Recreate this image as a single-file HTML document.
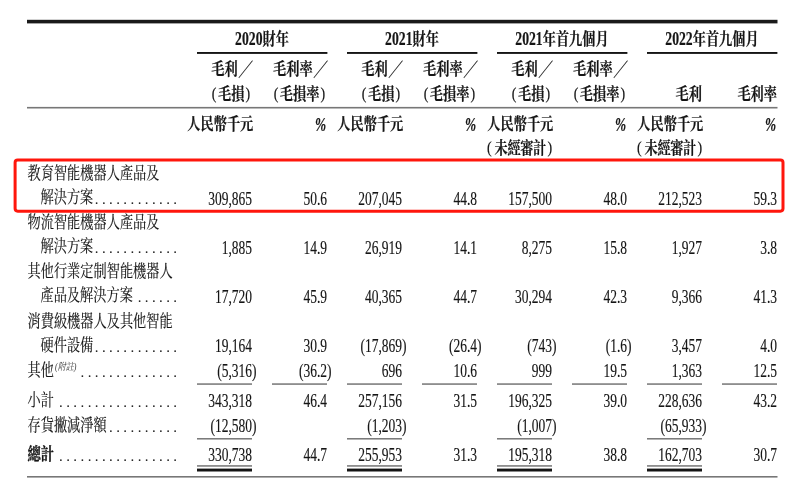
<!DOCTYPE html>
<html lang="zh-Hant"><head><meta charset="utf-8"><title>毛利及毛利率</title>
<style>
html,body{margin:0;padding:0;background:#fff;overflow:hidden;}
svg{display:block;font-family:'Liberation Serif', 'Noto Serif CJK SC', serif;filter:blur(0.3px);}
</style></head>
<body>
<svg width="804" height="488" viewBox="0 0 804 488">
<rect width="804" height="488" fill="#fff"/>
<rect x="27" y="19.8" width="750.5" height="3.6" fill="#1a1a1a"/>
<rect x="27" y="106.9" width="750.5" height="1.6" fill="#777"/>
<rect x="27" y="476" width="750.5" height="1.6" fill="#777"/>
<text transform="translate(235.11,45) scale(0.74,1)" text-anchor="start" font-size="18.5" font-weight="700" fill="#151515" stroke="#151515" stroke-width="0.2">2020</text>
<text transform="translate(262.49,45) scale(0.8,1)" text-anchor="start" font-size="16.5" font-weight="700" fill="#151515" stroke="#151515" stroke-width="0.2">財年</text>
<rect x="197" y="52" width="130.4" height="1.9" fill="#151515"/>
<text transform="translate(385.11,45) scale(0.74,1)" text-anchor="start" font-size="18.5" font-weight="700" fill="#151515" stroke="#151515" stroke-width="0.2">2021</text>
<text transform="translate(412.49,45) scale(0.8,1)" text-anchor="start" font-size="16.5" font-weight="700" fill="#151515" stroke="#151515" stroke-width="0.2">財年</text>
<rect x="347" y="52" width="130.4" height="1.9" fill="#151515"/>
<text transform="translate(515.31,45) scale(0.74,1)" text-anchor="start" font-size="18.5" font-weight="700" fill="#151515" stroke="#151515" stroke-width="0.2">2021</text>
<text transform="translate(542.69,45) scale(0.8,1)" text-anchor="start" font-size="16.5" font-weight="700" fill="#151515" stroke="#151515" stroke-width="0.2">年首九個月</text>
<rect x="497" y="52" width="130.4" height="1.9" fill="#151515"/>
<text transform="translate(665.31,45) scale(0.74,1)" text-anchor="start" font-size="18.5" font-weight="700" fill="#151515" stroke="#151515" stroke-width="0.2">2022</text>
<text transform="translate(692.69,45) scale(0.8,1)" text-anchor="start" font-size="16.5" font-weight="700" fill="#151515" stroke="#151515" stroke-width="0.2">年首九個月</text>
<rect x="647" y="52" width="130.4" height="1.9" fill="#151515"/>
<text transform="translate(253,75) scale(0.8,1)" text-anchor="end" font-size="16.5" font-weight="700" fill="#151515" stroke="#151515" stroke-width="0.2">毛利<tspan dx="0.65" dy="1.0" font-size="18.5">／</tspan></text>
<text transform="translate(250.2,100) scale(0.8,1)" text-anchor="end" font-size="16.5" font-weight="700" fill="#151515" stroke="#151515" stroke-width="0.2"><tspan font-weight="400" font-size="17.5" dy="-0.9">(</tspan><tspan dx="1.9" dy="0.9">毛損</tspan><tspan dx="1.4" dy="-0.9" font-weight="400" font-size="17.5">)</tspan></text>
<text transform="translate(328,75) scale(0.8,1)" text-anchor="end" font-size="16.5" font-weight="700" fill="#151515" stroke="#151515" stroke-width="0.2">毛利率<tspan dx="0.65" dy="1.0" font-size="18.5">／</tspan></text>
<text transform="translate(325.2,100) scale(0.8,1)" text-anchor="end" font-size="16.5" font-weight="700" fill="#151515" stroke="#151515" stroke-width="0.2"><tspan font-weight="400" font-size="17.5" dy="-0.9">(</tspan><tspan dx="1.9" dy="0.9">毛損率</tspan><tspan dx="1.4" dy="-0.9" font-weight="400" font-size="17.5">)</tspan></text>
<text transform="translate(403,75) scale(0.8,1)" text-anchor="end" font-size="16.5" font-weight="700" fill="#151515" stroke="#151515" stroke-width="0.2">毛利<tspan dx="0.65" dy="1.0" font-size="18.5">／</tspan></text>
<text transform="translate(400.2,100) scale(0.8,1)" text-anchor="end" font-size="16.5" font-weight="700" fill="#151515" stroke="#151515" stroke-width="0.2"><tspan font-weight="400" font-size="17.5" dy="-0.9">(</tspan><tspan dx="1.9" dy="0.9">毛損</tspan><tspan dx="1.4" dy="-0.9" font-weight="400" font-size="17.5">)</tspan></text>
<text transform="translate(478,75) scale(0.8,1)" text-anchor="end" font-size="16.5" font-weight="700" fill="#151515" stroke="#151515" stroke-width="0.2">毛利率<tspan dx="0.65" dy="1.0" font-size="18.5">／</tspan></text>
<text transform="translate(475.2,100) scale(0.8,1)" text-anchor="end" font-size="16.5" font-weight="700" fill="#151515" stroke="#151515" stroke-width="0.2"><tspan font-weight="400" font-size="17.5" dy="-0.9">(</tspan><tspan dx="1.9" dy="0.9">毛損率</tspan><tspan dx="1.4" dy="-0.9" font-weight="400" font-size="17.5">)</tspan></text>
<text transform="translate(553,75) scale(0.8,1)" text-anchor="end" font-size="16.5" font-weight="700" fill="#151515" stroke="#151515" stroke-width="0.2">毛利<tspan dx="0.65" dy="1.0" font-size="18.5">／</tspan></text>
<text transform="translate(550.2,100) scale(0.8,1)" text-anchor="end" font-size="16.5" font-weight="700" fill="#151515" stroke="#151515" stroke-width="0.2"><tspan font-weight="400" font-size="17.5" dy="-0.9">(</tspan><tspan dx="1.9" dy="0.9">毛損</tspan><tspan dx="1.4" dy="-0.9" font-weight="400" font-size="17.5">)</tspan></text>
<text transform="translate(628,75) scale(0.8,1)" text-anchor="end" font-size="16.5" font-weight="700" fill="#151515" stroke="#151515" stroke-width="0.2">毛利率<tspan dx="0.65" dy="1.0" font-size="18.5">／</tspan></text>
<text transform="translate(625.2,100) scale(0.8,1)" text-anchor="end" font-size="16.5" font-weight="700" fill="#151515" stroke="#151515" stroke-width="0.2"><tspan font-weight="400" font-size="17.5" dy="-0.9">(</tspan><tspan dx="1.9" dy="0.9">毛損率</tspan><tspan dx="1.4" dy="-0.9" font-weight="400" font-size="17.5">)</tspan></text>
<text transform="translate(702,100) scale(0.8,1)" text-anchor="end" font-size="16.5" font-weight="700" fill="#151515" stroke="#151515" stroke-width="0.2">毛利</text>
<text transform="translate(777,100) scale(0.8,1)" text-anchor="end" font-size="16.5" font-weight="700" fill="#151515" stroke="#151515" stroke-width="0.2">毛利率</text>
<text transform="translate(253.3,130) scale(0.8,1)" text-anchor="end" font-size="16.5" font-weight="700" fill="#151515" stroke="#151515" stroke-width="0.2">人民幣千元</text>
<text transform="translate(326.2,130.7) scale(0.72,1)" text-anchor="end" font-size="18.5" font-weight="700" fill="#151515" stroke="#151515" stroke-width="0.2" font-style="italic">%</text>
<text transform="translate(403.3,130) scale(0.8,1)" text-anchor="end" font-size="16.5" font-weight="700" fill="#151515" stroke="#151515" stroke-width="0.2">人民幣千元</text>
<text transform="translate(476.2,130.7) scale(0.72,1)" text-anchor="end" font-size="18.5" font-weight="700" fill="#151515" stroke="#151515" stroke-width="0.2" font-style="italic">%</text>
<text transform="translate(553.3,130) scale(0.8,1)" text-anchor="end" font-size="16.5" font-weight="700" fill="#151515" stroke="#151515" stroke-width="0.2">人民幣千元</text>
<text transform="translate(552.2,154) scale(0.8,1)" text-anchor="end" font-size="16.5" font-weight="700" fill="#151515" stroke="#151515" stroke-width="0.2"><tspan font-weight="400" font-size="17.5" dy="-0.9">(</tspan><tspan dx="3.5" dy="0.9" letter-spacing="-0.5">未經審計</tspan><tspan dx="2.2" dy="-0.9" font-weight="400" font-size="17.5">)</tspan></text>
<text transform="translate(626.2,130.7) scale(0.72,1)" text-anchor="end" font-size="18.5" font-weight="700" fill="#151515" stroke="#151515" stroke-width="0.2" font-style="italic">%</text>
<text transform="translate(703.3,130) scale(0.8,1)" text-anchor="end" font-size="16.5" font-weight="700" fill="#151515" stroke="#151515" stroke-width="0.2">人民幣千元</text>
<text transform="translate(702.2,154) scale(0.8,1)" text-anchor="end" font-size="16.5" font-weight="700" fill="#151515" stroke="#151515" stroke-width="0.2"><tspan font-weight="400" font-size="17.5" dy="-0.9">(</tspan><tspan dx="3.5" dy="0.9" letter-spacing="-0.5">未經審計</tspan><tspan dx="2.2" dy="-0.9" font-weight="400" font-size="17.5">)</tspan></text>
<text transform="translate(776.2,130.7) scale(0.72,1)" text-anchor="end" font-size="18.5" font-weight="700" fill="#151515" stroke="#151515" stroke-width="0.2" font-style="italic">%</text>
<text transform="translate(27.5,179.3) scale(0.8,1)" text-anchor="start" font-size="16.5" fill="#151515" stroke="#151515" stroke-width="0.15">教育智能機器人產品及</text>
<text transform="translate(40.5,203.4) scale(0.8,1)" text-anchor="start" font-size="16.5" fill="#151515" stroke="#151515" stroke-width="0.15">解決方案</text>
<text x="96.66 103.8 110.94 118.08 125.22 132.36 139.5 146.64 153.78 160.92 168.06 175.2" y="204" text-anchor="middle" font-size="15" fill="#222">............</text>
<text transform="translate(252,204.5) scale(0.73,1)" text-anchor="end" font-size="18.5" fill="#151515" stroke="#151515" stroke-width="0.15">309,865</text>
<text transform="translate(327,204.5) scale(0.73,1)" text-anchor="end" font-size="18.5" fill="#151515" stroke="#151515" stroke-width="0.15">50.6</text>
<text transform="translate(402,204.5) scale(0.73,1)" text-anchor="end" font-size="18.5" fill="#151515" stroke="#151515" stroke-width="0.15">207,045</text>
<text transform="translate(477,204.5) scale(0.73,1)" text-anchor="end" font-size="18.5" fill="#151515" stroke="#151515" stroke-width="0.15">44.8</text>
<text transform="translate(552,204.5) scale(0.73,1)" text-anchor="end" font-size="18.5" fill="#151515" stroke="#151515" stroke-width="0.15">157,500</text>
<text transform="translate(627,204.5) scale(0.73,1)" text-anchor="end" font-size="18.5" fill="#151515" stroke="#151515" stroke-width="0.15">48.0</text>
<text transform="translate(702,204.5) scale(0.73,1)" text-anchor="end" font-size="18.5" fill="#151515" stroke="#151515" stroke-width="0.15">212,523</text>
<text transform="translate(777,204.5) scale(0.73,1)" text-anchor="end" font-size="18.5" fill="#151515" stroke="#151515" stroke-width="0.15">59.3</text>
<text transform="translate(27.5,228.3) scale(0.8,1)" text-anchor="start" font-size="16.5" fill="#151515" stroke="#151515" stroke-width="0.15">物流智能機器人產品及</text>
<text transform="translate(40.5,252.4) scale(0.8,1)" text-anchor="start" font-size="16.5" fill="#151515" stroke="#151515" stroke-width="0.15">解決方案</text>
<text x="96.66 103.8 110.94 118.08 125.22 132.36 139.5 146.64 153.78 160.92 168.06 175.2" y="253" text-anchor="middle" font-size="15" fill="#222">............</text>
<text transform="translate(252,253.5) scale(0.73,1)" text-anchor="end" font-size="18.5" fill="#151515" stroke="#151515" stroke-width="0.15">1,885</text>
<text transform="translate(327,253.5) scale(0.73,1)" text-anchor="end" font-size="18.5" fill="#151515" stroke="#151515" stroke-width="0.15">14.9</text>
<text transform="translate(402,253.5) scale(0.73,1)" text-anchor="end" font-size="18.5" fill="#151515" stroke="#151515" stroke-width="0.15">26,919</text>
<text transform="translate(477,253.5) scale(0.73,1)" text-anchor="end" font-size="18.5" fill="#151515" stroke="#151515" stroke-width="0.15">14.1</text>
<text transform="translate(552,253.5) scale(0.73,1)" text-anchor="end" font-size="18.5" fill="#151515" stroke="#151515" stroke-width="0.15">8,275</text>
<text transform="translate(627,253.5) scale(0.73,1)" text-anchor="end" font-size="18.5" fill="#151515" stroke="#151515" stroke-width="0.15">15.8</text>
<text transform="translate(702,253.5) scale(0.73,1)" text-anchor="end" font-size="18.5" fill="#151515" stroke="#151515" stroke-width="0.15">1,927</text>
<text transform="translate(777,253.5) scale(0.73,1)" text-anchor="end" font-size="18.5" fill="#151515" stroke="#151515" stroke-width="0.15">3.8</text>
<text transform="translate(27.5,277.3) scale(0.8,1)" text-anchor="start" font-size="16.5" fill="#151515" stroke="#151515" stroke-width="0.15">其他行業定制智能機器人</text>
<text transform="translate(40.5,301.4) scale(0.8,1)" text-anchor="start" font-size="16.5" fill="#151515" stroke="#151515" stroke-width="0.15">產品及解決方案</text>
<text x="139.5 146.64 153.78 160.92 168.06 175.2" y="302" text-anchor="middle" font-size="15" fill="#222">......</text>
<text transform="translate(252,302.5) scale(0.73,1)" text-anchor="end" font-size="18.5" fill="#151515" stroke="#151515" stroke-width="0.15">17,720</text>
<text transform="translate(327,302.5) scale(0.73,1)" text-anchor="end" font-size="18.5" fill="#151515" stroke="#151515" stroke-width="0.15">45.9</text>
<text transform="translate(402,302.5) scale(0.73,1)" text-anchor="end" font-size="18.5" fill="#151515" stroke="#151515" stroke-width="0.15">40,365</text>
<text transform="translate(477,302.5) scale(0.73,1)" text-anchor="end" font-size="18.5" fill="#151515" stroke="#151515" stroke-width="0.15">44.7</text>
<text transform="translate(552,302.5) scale(0.73,1)" text-anchor="end" font-size="18.5" fill="#151515" stroke="#151515" stroke-width="0.15">30,294</text>
<text transform="translate(627,302.5) scale(0.73,1)" text-anchor="end" font-size="18.5" fill="#151515" stroke="#151515" stroke-width="0.15">42.3</text>
<text transform="translate(702,302.5) scale(0.73,1)" text-anchor="end" font-size="18.5" fill="#151515" stroke="#151515" stroke-width="0.15">9,366</text>
<text transform="translate(777,302.5) scale(0.73,1)" text-anchor="end" font-size="18.5" fill="#151515" stroke="#151515" stroke-width="0.15">41.3</text>
<text transform="translate(27.5,326.8) scale(0.8,1)" text-anchor="start" font-size="16.5" fill="#151515" stroke="#151515" stroke-width="0.15">消費級機器人及其他智能</text>
<text transform="translate(40.5,350.9) scale(0.8,1)" text-anchor="start" font-size="16.5" fill="#151515" stroke="#151515" stroke-width="0.15">硬件設備</text>
<text x="96.66 103.8 110.94 118.08 125.22 132.36 139.5 146.64 153.78 160.92 168.06 175.2" y="351.5" text-anchor="middle" font-size="15" fill="#222">............</text>
<text transform="translate(252,352) scale(0.73,1)" text-anchor="end" font-size="18.5" fill="#151515" stroke="#151515" stroke-width="0.15">19,164</text>
<text transform="translate(327,352) scale(0.73,1)" text-anchor="end" font-size="18.5" fill="#151515" stroke="#151515" stroke-width="0.15">30.9</text>
<text transform="translate(406.5,352) scale(0.73,1)" text-anchor="end" font-size="18.5" fill="#151515" stroke="#151515" stroke-width="0.15">(17,869)</text>
<text transform="translate(481.5,352) scale(0.73,1)" text-anchor="end" font-size="18.5" fill="#151515" stroke="#151515" stroke-width="0.15">(26.4)</text>
<text transform="translate(556.5,352) scale(0.73,1)" text-anchor="end" font-size="18.5" fill="#151515" stroke="#151515" stroke-width="0.15">(743)</text>
<text transform="translate(631.5,352) scale(0.73,1)" text-anchor="end" font-size="18.5" fill="#151515" stroke="#151515" stroke-width="0.15">(1.6)</text>
<text transform="translate(702,352) scale(0.73,1)" text-anchor="end" font-size="18.5" fill="#151515" stroke="#151515" stroke-width="0.15">3,457</text>
<text transform="translate(777,352) scale(0.73,1)" text-anchor="end" font-size="18.5" fill="#151515" stroke="#151515" stroke-width="0.15">4.0</text>
<text transform="translate(27.5,375.9) scale(0.8,1)" text-anchor="start" font-size="16.5" fill="#151515" stroke="#151515" stroke-width="0.15">其他<tspan font-size="10" font-style="italic" dy="-6.3" dx="1.5" fill="#333" stroke="none">(附註)</tspan></text>
<text x="82.38 89.52 96.66 103.8 110.94 118.08 125.22 132.36 139.5 146.64 153.78 160.92 168.06 175.2" y="376.5" text-anchor="middle" font-size="15" fill="#222">..............</text>
<text transform="translate(256.5,376.5) scale(0.73,1)" text-anchor="end" font-size="18.5" fill="#151515" stroke="#151515" stroke-width="0.15">(5,316)</text>
<text transform="translate(331.5,376.5) scale(0.73,1)" text-anchor="end" font-size="18.5" fill="#151515" stroke="#151515" stroke-width="0.15">(36.2)</text>
<text transform="translate(402,376.5) scale(0.73,1)" text-anchor="end" font-size="18.5" fill="#151515" stroke="#151515" stroke-width="0.15">696</text>
<text transform="translate(477,376.5) scale(0.73,1)" text-anchor="end" font-size="18.5" fill="#151515" stroke="#151515" stroke-width="0.15">10.6</text>
<text transform="translate(552,376.5) scale(0.73,1)" text-anchor="end" font-size="18.5" fill="#151515" stroke="#151515" stroke-width="0.15">999</text>
<text transform="translate(627,376.5) scale(0.73,1)" text-anchor="end" font-size="18.5" fill="#151515" stroke="#151515" stroke-width="0.15">19.5</text>
<text transform="translate(702,376.5) scale(0.73,1)" text-anchor="end" font-size="18.5" fill="#151515" stroke="#151515" stroke-width="0.15">1,363</text>
<text transform="translate(777,376.5) scale(0.73,1)" text-anchor="end" font-size="18.5" fill="#151515" stroke="#151515" stroke-width="0.15">12.5</text>
<text transform="translate(27.5,406.4) scale(0.8,1)" text-anchor="start" font-size="16.5" fill="#151515" stroke="#151515" stroke-width="0.15">小計</text>
<text x="60.96 68.1 75.24 82.38 89.52 96.66 103.8 110.94 118.08 125.22 132.36 139.5 146.64 153.78 160.92 168.06 175.2" y="407" text-anchor="middle" font-size="15" fill="#222">.................</text>
<text transform="translate(252,407) scale(0.73,1)" text-anchor="end" font-size="18.5" fill="#151515" stroke="#151515" stroke-width="0.15">343,318</text>
<text transform="translate(327,407) scale(0.73,1)" text-anchor="end" font-size="18.5" fill="#151515" stroke="#151515" stroke-width="0.15">46.4</text>
<text transform="translate(402,407) scale(0.73,1)" text-anchor="end" font-size="18.5" fill="#151515" stroke="#151515" stroke-width="0.15">257,156</text>
<text transform="translate(477,407) scale(0.73,1)" text-anchor="end" font-size="18.5" fill="#151515" stroke="#151515" stroke-width="0.15">31.5</text>
<text transform="translate(552,407) scale(0.73,1)" text-anchor="end" font-size="18.5" fill="#151515" stroke="#151515" stroke-width="0.15">196,325</text>
<text transform="translate(627,407) scale(0.73,1)" text-anchor="end" font-size="18.5" fill="#151515" stroke="#151515" stroke-width="0.15">39.0</text>
<text transform="translate(702,407) scale(0.73,1)" text-anchor="end" font-size="18.5" fill="#151515" stroke="#151515" stroke-width="0.15">228,636</text>
<text transform="translate(777,407) scale(0.73,1)" text-anchor="end" font-size="18.5" fill="#151515" stroke="#151515" stroke-width="0.15">43.2</text>
<text transform="translate(27.5,431.4) scale(0.8,1)" text-anchor="start" font-size="16.5" fill="#151515" stroke="#151515" stroke-width="0.15">存貨撇減淨額</text>
<text x="110.94 118.08 125.22 132.36 139.5 146.64 153.78 160.92 168.06 175.2" y="432" text-anchor="middle" font-size="15" fill="#222">..........</text>
<text transform="translate(256.5,432) scale(0.73,1)" text-anchor="end" font-size="18.5" fill="#151515" stroke="#151515" stroke-width="0.15">(12,580)</text>
<text transform="translate(406.5,432) scale(0.73,1)" text-anchor="end" font-size="18.5" fill="#151515" stroke="#151515" stroke-width="0.15">(1,203)</text>
<text transform="translate(556.5,432) scale(0.73,1)" text-anchor="end" font-size="18.5" fill="#151515" stroke="#151515" stroke-width="0.15">(1,007)</text>
<text transform="translate(706.5,432) scale(0.73,1)" text-anchor="end" font-size="18.5" fill="#151515" stroke="#151515" stroke-width="0.15">(65,933)</text>
<text transform="translate(27.5,460.4) scale(0.8,1)" text-anchor="start" font-size="16.5" font-weight="700" fill="#151515" stroke="#151515" stroke-width="0.3">總計</text>
<text x="60.96 68.1 75.24 82.38 89.52 96.66 103.8 110.94 118.08 125.22 132.36 139.5 146.64 153.78 160.92 168.06 175.2" y="461" text-anchor="middle" font-size="15" fill="#222">.................</text>
<text transform="translate(252,461) scale(0.73,1)" text-anchor="end" font-size="18.5" fill="#151515" stroke="#151515" stroke-width="0.15">330,738</text>
<text transform="translate(327,461) scale(0.73,1)" text-anchor="end" font-size="18.5" fill="#151515" stroke="#151515" stroke-width="0.15">44.7</text>
<text transform="translate(402,461) scale(0.73,1)" text-anchor="end" font-size="18.5" fill="#151515" stroke="#151515" stroke-width="0.15">255,953</text>
<text transform="translate(477,461) scale(0.73,1)" text-anchor="end" font-size="18.5" fill="#151515" stroke="#151515" stroke-width="0.15">31.3</text>
<text transform="translate(552,461) scale(0.73,1)" text-anchor="end" font-size="18.5" fill="#151515" stroke="#151515" stroke-width="0.15">195,318</text>
<text transform="translate(627,461) scale(0.73,1)" text-anchor="end" font-size="18.5" fill="#151515" stroke="#151515" stroke-width="0.15">38.8</text>
<text transform="translate(702,461) scale(0.73,1)" text-anchor="end" font-size="18.5" fill="#151515" stroke="#151515" stroke-width="0.15">162,703</text>
<text transform="translate(777,461) scale(0.73,1)" text-anchor="end" font-size="18.5" fill="#151515" stroke="#151515" stroke-width="0.15">30.7</text>
<rect x="197" y="383.5" width="55" height="1.1" fill="#444"/>
<rect x="272" y="383.5" width="55" height="1.1" fill="#444"/>
<rect x="347" y="383.5" width="55" height="1.1" fill="#444"/>
<rect x="422" y="383.5" width="55" height="1.1" fill="#444"/>
<rect x="497" y="383.5" width="55" height="1.1" fill="#444"/>
<rect x="572" y="383.5" width="55" height="1.1" fill="#444"/>
<rect x="647" y="383.5" width="55" height="1.1" fill="#444"/>
<rect x="722" y="383.5" width="55" height="1.1" fill="#444"/>
<rect x="197" y="438.3" width="55" height="1.1" fill="#444"/>
<rect x="197" y="465.4" width="55" height="1.1" fill="#444"/>
<rect x="197" y="468.6" width="55" height="2.9" fill="#151515"/>
<rect x="347" y="438.3" width="55" height="1.1" fill="#444"/>
<rect x="347" y="465.4" width="55" height="1.1" fill="#444"/>
<rect x="347" y="468.6" width="55" height="2.9" fill="#151515"/>
<rect x="497" y="438.3" width="55" height="1.1" fill="#444"/>
<rect x="497" y="465.4" width="55" height="1.1" fill="#444"/>
<rect x="497" y="468.6" width="55" height="2.9" fill="#151515"/>
<rect x="647" y="438.3" width="55" height="1.1" fill="#444"/>
<rect x="647" y="465.4" width="55" height="1.1" fill="#444"/>
<rect x="647" y="468.6" width="55" height="2.9" fill="#151515"/>
<rect x="15.1" y="159.9" width="767.9" height="51.3" rx="2.6" ry="2.6" fill="none" stroke="#ff160c" stroke-width="3"/>
</svg>
</body></html>
